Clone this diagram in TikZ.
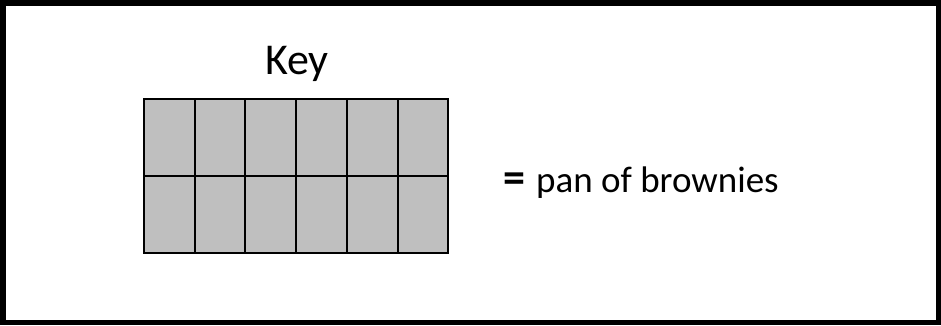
\documentclass[tikz,border=0pt]{standalone}
\usepackage{fontspec}
\setmainfont{Carlito}
\definecolor{pangray}{RGB}{191,191,191}
\tikzset{
  cell/.style={rectangle, draw, fill=pangray, line width=2pt, inner sep=0pt,
    minimum width=50.7pt, minimum height=77pt},
}

\begin{document}
\begin{tikzpicture}[x=1pt, y=-1pt]
    \useasboundingbox (0,0) rectangle (941,325);
    \draw[line width=5.5pt] (2.75,3) rectangle (938.3,322.5);

    \node[font=\fontsize{44}{48}\selectfont, anchor=base, inner sep=0pt] (key) at (297,74) {Key};

    \node[cell] (1) at (169.35,137) {};
    \node[cell] (2) at (220.05,137) {};
    \node[cell] (3) at (270.75,137) {};
    \node[cell] (4) at (321.45,137) {};
    \node[cell] (5) at (372.15,137) {};
    \node[cell] (6) at (422.85,137) {};
    \node[cell] (7) at (169.35,214) {};
    \node[cell] (8) at (220.05,214) {};
    \node[cell] (9) at (270.75,214) {};
    \node[cell] (10) at (321.45,214) {};
    \node[cell] (11) at (372.15,214) {};
    \node[cell] (12) at (422.85,214) {};

    \node[font=\fontsize{44}{48}\selectfont\bfseries, anchor=base, inner sep=0pt] (eq) at (514,192.3) {=};
    \node[font=\fontsize{37}{40}\selectfont, anchor=base west, inner sep=0pt] (pan) at (536,192.3) {pan of brownies};
  \end{tikzpicture}
\end{document}
